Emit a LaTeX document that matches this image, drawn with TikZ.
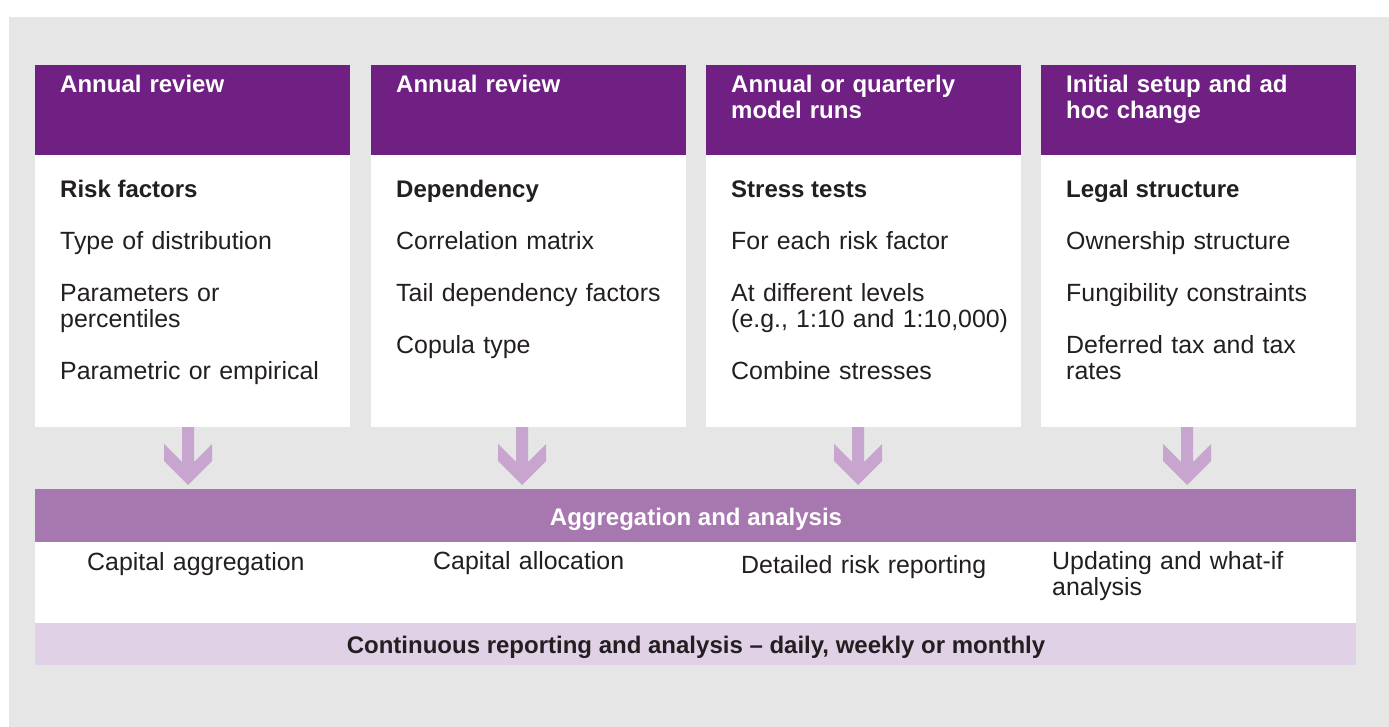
\documentclass[tikz,border=0pt]{standalone}
\usepackage{fontspec}
\setmainfont{Liberation Sans}
\usetikzlibrary{calc}
\definecolor{dpurple}{HTML}{702082}
\definecolor{mpurple}{HTML}{A778B0}
\definecolor{lpurple}{HTML}{E0D1E6}
\definecolor{apurple}{HTML}{C8A5CF}
\definecolor{bggrey}{HTML}{E6E6E6}
\definecolor{txt}{HTML}{231F20}
\newcommand\chevron[1]{\fill[apurple] (#1) ++(-6,0) -- ++(0,35) -- ++(-18,-18) -- ++(0,17) -- ++(24,24) -- ++(24,-24) -- ++(0,-17) -- ++(-18,18) -- ++(0,-35) -- cycle;}
\begin{document}
\begin{tikzpicture}[x=1pt,y=-1pt,
  panel/.style={inner sep=0pt, outer sep=0pt, anchor=north west, minimum width=315pt},
  hdr/.style={panel, fill=dpurple, minimum height=90pt},
  bodybox/.style={panel, fill=white, minimum height=272pt},
  band/.style={inner sep=0pt, outer sep=0pt, anchor=north west, minimum width=1321pt},
  hdrtxt/.style={anchor=base west, inner sep=0pt, text width=290pt, align=left, text=white, font=\fontsize{24}{26}\selectfont\bfseries},
  ttl/.style={anchor=base west, inner sep=0pt, text=txt, font=\fontsize{24}{26}\selectfont\bfseries},
  itm/.style={anchor=base west, inner sep=0pt, text width=300pt, align=left, text=txt, font=\fontsize{24.9}{26}\selectfont},
]
\useasboundingbox (0,0) rectangle (1389,727);
\fill[bggrey] (9,17) rectangle (1389,727);

% header boxes
\node[hdr] (h1) at (35,65) {};
\node[hdr] (h2) at (371,65) {};
\node[hdr] (h3) at (706,65) {};
\node[hdr] (h4) at (1041,65) {};
% body boxes
\node[bodybox] (b1) at (35,155) {};
\node[bodybox] (b2) at (371,155) {};
\node[bodybox] (b3) at (706,155) {};
\node[bodybox] (b4) at (1041,155) {};

% header texts
\node[hdrtxt] (h1t) at (60,93) {Annual review};
\node[hdrtxt] (h2t) at (396,93) {Annual review};
\node[hdrtxt] (h3t) at (731,93) {Annual or quarterly\\model runs};
\node[hdrtxt] (h4t) at (1066,93) {Initial setup and ad\\hoc change};

% titles
\node[ttl] (t1) at (60,198) {Risk factors};
\node[ttl] (t2) at (396,198) {Dependency};
\node[ttl] (t3) at (731,198) {Stress tests};
\node[ttl] (t4) at (1066,198) {Legal structure};

% items
\node[itm] (i1) at (60,250) {Type of distribution\\[26pt]Parameters or\\percentiles\\[26pt]Parametric or empirical};
\node[itm] (i2) at (396,250) {Correlation matrix\\[26pt]Tail dependency factors\\[26pt]Copula type};
\node[itm] (i3) at (731,250) {For each risk factor\\[26pt]At different levels\\(e.g., 1:10 and 1:10,000)\\[26pt]Combine stresses};
\node[itm] (i4) at (1066,250) {Ownership structure\\[26pt]Fungibility constraints\\[26pt]Deferred tax and tax\\rates};

% bands
\node[band, fill=mpurple, minimum height=53pt] (agg) at (35,489) {};
\node[band, fill=white, minimum height=81pt] (out) at (35,542) {};
\node[band, fill=lpurple, minimum height=42pt] (cont) at (35,623) {};

\node[anchor=base, inner sep=0pt, text=white, font=\fontsize{24}{26}\selectfont\bfseries] (aggt) at (696,525) {Aggregation and analysis};
\node[anchor=base, inner sep=0pt, text=txt, font=\fontsize{24}{26}\selectfont\bfseries] (contt) at (696,653) {Continuous reporting and analysis -- daily, weekly or monthly};

\node[itm] (o1) at (87,570) {Capital aggregation};
\node[itm] (o2) at (433,569) {Capital allocation};
\node[itm] (o3) at (741,573) {Detailed risk reporting};
\node[itm] (o4) at (1052,569) {Updating and what-if\\analysis};

% arrows from panels to aggregation bar
\coordinate (a1) at ($(b1.south)+(-4.5,0)$);
\coordinate (a2) at ($(b2.south)+(-6.5,0)$);
\coordinate (a3) at ($(b3.south)+(-5.5,0)$);
\coordinate (a4) at ($(b4.south)+(-11.5,0)$);
\chevron{a1}
\chevron{a2}
\chevron{a3}
\chevron{a4}
\end{tikzpicture}
\end{document}
